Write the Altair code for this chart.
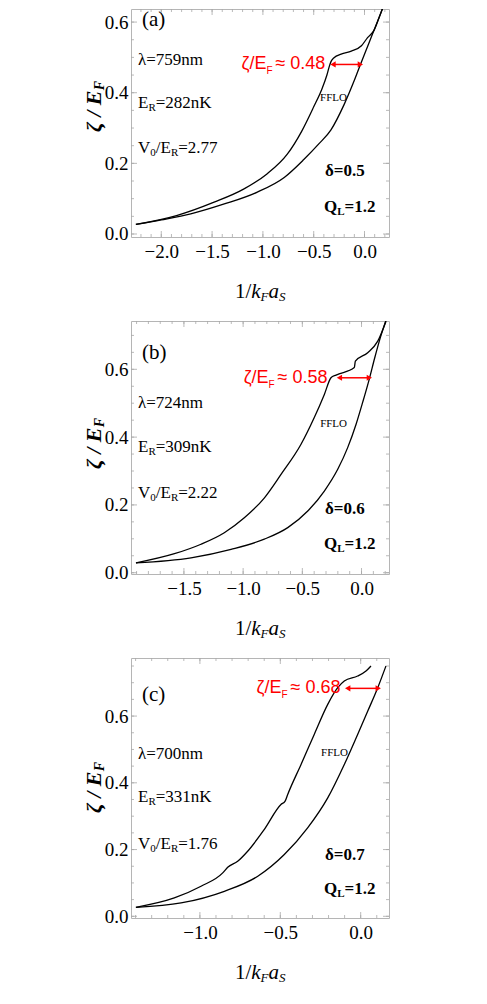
import math
import altair as alt
import pandas as pd

SERIF = "Liberation Serif"
SANS = "Liberation Sans Narrow, Liberation Sans, sans-serif"
RED = "#ff0000"

# ---------------- data ----------------
a_upper_x = [-2.25, -1.85, -1.48, -1.19, -0.96, -0.76, -0.62, -0.50, -0.42, -0.37, -0.345, -0.33, -0.30, -0.23, -0.13, -0.03, 0.03, 0.096, 0.14, 0.18, 0.21, 0.24]
a_upper_y = [0.027, 0.052, 0.090, 0.127, 0.170, 0.226, 0.290, 0.360, 0.410, 0.450, 0.476, 0.488, 0.499, 0.509, 0.518, 0.533, 0.556, 0.578, 0.610, 0.641, 0.665, 0.700]
a_lower_x = [-2.25, -2.0, -1.71, -1.38, -1.06, -0.79, -0.60, -0.45, -0.33, -0.20, -0.10, -0.04, 0.04, 0.12, 0.21, 0.24]
a_lower_y = [0.027, 0.040, 0.057, 0.085, 0.118, 0.160, 0.210, 0.255, 0.295, 0.367, 0.435, 0.480, 0.538, 0.596, 0.662, 0.685]

b_upper_x = [-1.905, -1.58, -1.356, -1.159, -0.99, -0.82, -0.68, -0.511, -0.40, -0.314, -0.258, -0.215, -0.061, -0.052, 0.052, 0.137, 0.207]
b_upper_y = [0.029, 0.056, 0.084, 0.118, 0.162, 0.221, 0.290, 0.379, 0.457, 0.526, 0.575, 0.583, 0.605, 0.624, 0.649, 0.683, 0.742]
b_lower_x = [-1.905, -1.44, -1.102, -0.821, -0.623, -0.454, -0.314, -0.201, -0.117, -0.046, 0.01, 0.066, 0.11, 0.16, 0.207]
b_lower_y = [0.029, 0.044, 0.069, 0.099, 0.133, 0.182, 0.241, 0.305, 0.369, 0.438, 0.503, 0.572, 0.632, 0.695, 0.745]

c_upper_x = [-1.398, -1.159, -0.993, -0.858, -0.827, -0.765, -0.703, -0.60, -0.496, -0.47, -0.454, -0.371, -0.289, -0.205, -0.143, -0.102, -0.019, 0.033, 0.064]
c_upper_y = [0.027, 0.055, 0.090, 0.130, 0.147, 0.165, 0.195, 0.260, 0.335, 0.345, 0.365, 0.455, 0.545, 0.635, 0.685, 0.705, 0.720, 0.735, 0.750]
c_lower_x = [-1.398, -1.117, -0.848, -0.64, -0.475, -0.33, -0.205, -0.102, -0.019, 0.044, 0.106, 0.157]
c_lower_y = [0.027, 0.040, 0.075, 0.120, 0.185, 0.265, 0.355, 0.455, 0.545, 0.615, 0.685, 0.750]

tags = ["(a)", "(b)", "(c)"]
lambda_vals = ["759nm", "724nm", "700nm"]
er_vals = ["282nK", "309nK", "331nK"]
v0_vals = ["2.77", "2.22", "1.76"]
delta_vals = ["0.5", "0.6", "0.7"]
ql_vals = ["1.2", "1.2", "1.2"]
zeta_labels = ["0.48", "0.58", "0.68"]
arrow_y = [0.48, 0.575, 0.683]
arrow_x0 = [-0.31, -0.187, -0.081]
arrow_x1 = [-0.041, 0.066, 0.109]
zeta_anchor_x = [-0.965, -0.785, -0.4925]
fflo_x = [-0.305, -0.236, -0.163]
fflo_y = [0.385, 0.439, 0.489]
x_tick_vals = [[-2.0, -1.5, -1.0, -0.5, 0.0], [-1.5, -1.0, -0.5, 0.0], [-1.0, -0.5, 0.0]]
y_tick_vals = [0.0, 0.2, 0.4, 0.6]

curves = [
    (a_upper_x, a_upper_y, a_lower_x, a_lower_y),
    (b_upper_x, b_upper_y, b_lower_x, b_lower_y),
    (c_upper_x, c_upper_y, c_lower_x, c_lower_y),
]

# ---------------- layout ----------------
W = 258
HEIGHTS = [228, 253, 260]
XDOM = [[-2.298, 0.241], [-1.947, 0.232], [-1.4285, 0.176]]
YDOM = [[-0.0085, 0.637], [-0.0038, 0.7425], [-0.0051, 0.774]]
# annotation vertical offsets measured from the plot bottom (px)
ANN_DY = [
    dict(tag=-217, lam=-177, er=-134, v0=-89, de=-66, ql=-30),
    dict(tag=-221, lam=-171, er=-127, v0=-81, de=-65, ql=-30),
    dict(tag=-223, lam=-164, er=-121, v0=-74, de=-63, ql=-29),
]

TW = {"E": 0.611, "R": 0.667, "V": 0.722, "0": 0.5, "/": 0.278, "Q": 0.778, "L": 0.667, "1": 0.5}


def tw(s, size):
    return sum(TW.get(ch, 0.5) for ch in s) * size


def txt(s, x, y, size, color="black", font=SERIF, weight="normal", style="normal",
        align="left", angle=0, clip=False):
    kw = dict(font=font, fontSize=size, fontWeight=weight, fontStyle=style, color=color,
              align=align, baseline="middle", clip=clip)
    if angle:
        kw["angle"] = angle
    return alt.Chart(pd.DataFrame({"t": [s]})).mark_text(**kw).encode(
        x=alt.value(x), y=alt.value(y), text="t:N")


def rich(parts, x0, yc, size, sub, weight="normal", style="normal", subdy=5):
    out = []
    x = x0
    for s, is_sub in parts:
        fs = sub if is_sub else size
        out.append(txt(s, x, yc + (subdy if is_sub else 0), fs, weight=weight, style=style))
        x += tw(s, fs)
    return out


def panel(i):
    H = HEIGHTS[i]
    xd, yd = XDOM[i], YDOM[i]
    X = alt.X("x:Q", scale=alt.Scale(domain=xd, nice=False, zero=False),
              axis=alt.Axis(values=x_tick_vals[i], format=".1f", title=None, grid=False,
                            ticks=False, domain=False, labelFlush=False, labelFont=SERIF,
                            labelFontSize=19, labelPadding=5, labelColor="black"))
    Y = alt.Y("y:Q", scale=alt.Scale(domain=yd, nice=False, zero=False),
              axis=alt.Axis(values=y_tick_vals, format=".1f", title=None, grid=False,
                            ticks=False, domain=False, labelFlush=False, labelFont=SERIF,
                            labelFontSize=19, labelPadding=3, labelColor="black"))

    ux, uy, lx, ly = curves[i]
    cdf = pd.concat([
        pd.DataFrame({"x": ux, "y": uy, "c": "upper", "o": range(len(ux))}),
        pd.DataFrame({"x": lx, "y": ly, "c": "lower", "o": range(len(lx))}),
    ])
    lines = alt.Chart(cdf).mark_line(color="black", strokeWidth=1.3, clip=True,
                                     interpolate="monotone").encode(
        x=X, y=Y, detail="c:N", order="o:Q")

    # frame ticks (inward, Mathematica style)
    xmin = [round(k * 0.1, 2) for k in range(math.ceil(xd[0] / 0.1), math.floor(xd[1] / 0.1) + 1)]
    ymin = [round(k * 0.05, 3) for k in range(math.ceil(yd[0] / 0.05), math.floor(yd[1] / 0.05) + 1)]
    tick_col = "#a8a8a8"
    xt_min = pd.DataFrame({"x": xmin})
    xt_maj = pd.DataFrame({"x": x_tick_vals[i]})
    yt_min = pd.DataFrame({"y": ymin})
    yt_maj = pd.DataFrame({"y": y_tick_vals})
    ticks = []
    for df, L in ((xt_min, 3), (xt_maj, 6)):
        ticks.append(alt.Chart(df).mark_rule(color=tick_col, strokeWidth=0.8).encode(
            x=X, y=alt.value(H), y2=alt.value(H - L)))
        ticks.append(alt.Chart(df).mark_rule(color=tick_col, strokeWidth=0.8).encode(
            x=X, y=alt.value(0), y2=alt.value(L)))
    for df, L in ((yt_min, 3), (yt_maj, 6)):
        ticks.append(alt.Chart(df).mark_rule(color=tick_col, strokeWidth=0.8).encode(
            y=Y, x=alt.value(0), x2=alt.value(L)))
        ticks.append(alt.Chart(df).mark_rule(color=tick_col, strokeWidth=0.8).encode(
            y=Y, x=alt.value(W), x2=alt.value(W - L)))

    # red arrow
    adf = pd.DataFrame({"x": [arrow_x0[i], arrow_x1[i]], "y": [arrow_y[i], arrow_y[i]]})
    arrow = alt.Chart(adf).mark_line(color=RED, strokeWidth=1.5).encode(x=X, y=Y)
    head_l = alt.Chart(adf.iloc[[0]]).mark_point(shape="triangle-left", filled=True, size=38,
                                                  color=RED, opacity=1).encode(x=X, y=Y)
    head_r = alt.Chart(adf.iloc[[1]]).mark_point(shape="triangle-right", filled=True, size=38,
                                                  color=RED, opacity=1).encode(x=X, y=Y)

    zdf = pd.DataFrame({"x": [zeta_anchor_x[i]], "y": [arrow_y[i]]})
    z1 = alt.Chart(zdf.assign(t="ζ/E")).mark_text(font=SANS, fontSize=18, color=RED, align="right",
                                                  baseline="middle").encode(x=X, y=Y, text="t:N")
    z2 = alt.Chart(zdf.assign(t="F")).mark_text(font=SANS, fontSize=10, color=RED, align="left",
                                                baseline="middle", dx=0, dy=7).encode(x=X, y=Y, text="t:N")
    z3 = alt.Chart(zdf.assign(t="≈ " + zeta_labels[i])).mark_text(
        font=SANS, fontSize=18, color=RED, align="left", baseline="middle", dx=9).encode(
        x=X, y=Y, text="t:N")

    fdf = pd.DataFrame({"x": [fflo_x[i]], "y": [fflo_y[i]], "t": ["FFLO"]})
    fflo = alt.Chart(fdf).mark_text(font=SERIF, fontSize=11, color="black", align="center",
                                    baseline="middle").encode(x=X, y=Y, text="t:N")

    d = ANN_DY[i]
    ann = [txt(tags[i], 11, H + d["tag"], 21)]
    ann.append(txt("λ=" + lambda_vals[i], 7, H + d["lam"], 17))
    ann += rich([("E", False), ("R", True), ("=" + er_vals[i], False)], 7, H + d["er"], 17, 11)
    ann += rich([("V", False), ("0", True), ("/E", False), ("R", True), ("=" + v0_vals[i], False)],
                7, H + d["v0"], 17, 11)
    ann.append(txt("δ=" + delta_vals[i], 194, H + d["de"], 17, weight="bold"))
    ann += rich([("Q", False), ("L", True), ("=" + ql_vals[i], False)], 193, H + d["ql"], 17, 11,
                weight="bold")

    # x-axis title: 1/k_F a_S
    xs0 = W / 2 - 25
    yx = H + 55
    xt = [txt("1/", xs0, yx, 21, style="normal"),
          txt("k", xs0 + 16.3, yx, 21, style="italic"),
          txt("F", xs0 + 25.6, yx + 5, 13, style="italic"),
          txt("a", xs0 + 33.5, yx, 21, style="italic"),
          txt("S", xs0 + 44.0, yx + 5, 13, style="italic")]
    # y-axis title: ζ/E_F (rotated)
    cy = H - 130
    yt = [txt("ζ / E", -37, cy + 25, 22, weight="bold", style="italic", angle=270),
          txt("F", -31, cy + 25 - 41.7, 14, weight="bold", style="italic", angle=270)]

    layers = ticks + [lines, arrow, head_l, head_r, z1, z2, z3, fflo] + ann + xt + yt
    return alt.layer(*layers).properties(width=W, height=H)


chart = alt.vconcat(panel(0), panel(1), panel(2), spacing=84, bounds="flush").properties(
    padding={"left": 74, "top": 0, "right": 5, "bottom": 5}
).configure_view(stroke="#b5b5b5", strokeWidth=1).configure_axis(
    labelFont=SERIF, labelFontSize=19, labelColor="black"
)

chart.save("out.html", embed_options={"renderer": "svg", "actions": False})
